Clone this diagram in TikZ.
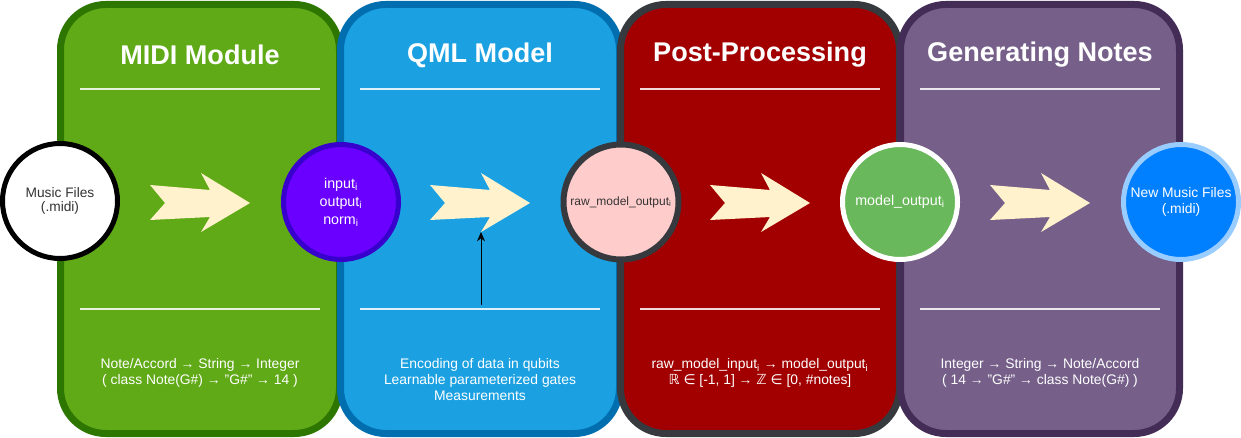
\documentclass[tikz,border=0pt]{standalone}
\usepackage{fontspec}
\setmainfont{Liberation Sans}
\newfontfamily\symf{DejaVu Sans}
\usetikzlibrary{arrows.meta}
\definecolor{gfill}{HTML}{60A917}
\definecolor{gline}{HTML}{2D7600}
\definecolor{bfill}{HTML}{1BA1E2}
\definecolor{bline}{HTML}{006EAF}
\definecolor{rfill}{HTML}{A20000}
\definecolor{rline}{HTML}{36393D}
\definecolor{pfill}{HTML}{76608A}
\definecolor{pline}{HTML}{432D57}
\definecolor{cream}{HTML}{FFF2CC}
\definecolor{violet}{HTML}{6A00FF}
\definecolor{violetline}{HTML}{3700CC}
\definecolor{pink}{HTML}{FFCCCC}
\definecolor{leaf}{HTML}{6AB85C}
\definecolor{azure}{HTML}{007FFF}
\definecolor{azureline}{HTML}{99CCFF}
\definecolor{txtgray}{HTML}{333333}
\newcommand{\symb}[1]{{\symf #1}}
\tikzset{
  panel/.style={rectangle, rounded corners=34pt, line width=5.25pt,
    minimum width=209.25pt, minimum height=321.75pt, inner sep=0pt},
  paneltitle/.style={text=white, font=\fontsize{20.3pt}{24pt}\selectfont\bfseries},
  divider/.style={draw=white, draw opacity=0.85, line width=1.5pt},
  bottomtext/.style={text=white, anchor=north, align=center,
    font=\fontsize{10.4pt}{12pt}\selectfont},
  station/.style={circle, line width=3.75pt, minimum size=86.25pt, inner sep=0pt,
    align=center, font=\fontsize{10.7pt}{13.5pt}\selectfont},
  smallstation/.style={station, font=\fontsize{10.3pt}{12.5pt}\selectfont},
  feeder/.style={-{Stealth[length=7pt,width=6pt]}, line width=0.75pt, black},
  bigarrow/.pic={
    \fill[cream] (-50,-18) -- (10,-13) -- (1,-30) -- (50,0) -- (1,29)
      -- (10,14) -- (-50,17) -- (-35,0) -- cycle;
    \coordinate (-barb) at (1,29);
  }
}
\begin{document}
\begin{tikzpicture}[x=0.75pt, y=-0.75pt]
\useasboundingbox (0,0) rectangle (1241,438);
% panels
\node[panel, fill=gfill, draw=gline] (p1) at (200,219) {};
\node[panel, fill=bfill, draw=bline] (p2) at (480,219) {};
\node[panel, fill=rfill, draw=rline] (p3) at (760,219) {};
\node[panel, fill=pfill, draw=pline] (p4) at (1040,219) {};
% titles
\node[paneltitle] (t1) at (200,55) {MIDI Module};
\node[paneltitle] (t2) at (480,55) {QML Model};
\node[paneltitle] (t3) at (760,55) {Post-Processing};
\node[paneltitle] (t4) at (1040,55) {Generating Notes};
% dividers
\foreach \cx in {200,480,760,1040}{
  \draw[divider] (\cx-120,89) -- (\cx+120,89);
  \draw[divider] (\cx-120,309) -- (\cx+120,309);
}
% chevron arrows
\pic (a1) at (200,203) {bigarrow};
\pic (a2) at (480,203) {bigarrow};
\pic (a3) at (760,203) {bigarrow};
\pic (a4) at (1040,203) {bigarrow};
% feeder arrow
\coordinate (fs) at (481,305);
\draw[feeder] (fs) -- (a2-barb);
% stations
\node[smallstation, fill=white, draw=black, text=txtgray] (c1) at (60,201)
  {\raisebox{-3pt}{\shortstack{Music Files\\(.midi)}}};
\node[station, fill=violet, draw=violetline, text=white] (c2) at (341,202)
  {input\textsubscript{i}\\output\textsubscript{i}\\norm\textsubscript{i}};
\node[station, fill=pink, draw=rline, line width=4.5pt, text=txtgray,
  font=\fontsize{9pt}{11pt}\selectfont] (c3) at (621,202)
  {raw\_model\_output\textsubscript{i}};
\node[station, fill=leaf, draw=white, text=white] (c4) at (900,202)
  {model\_output\textsubscript{i}};
\node[station, fill=azure, draw=azureline, text=white, font=\fontsize{10.4pt}{12.5pt}\selectfont] (c5) at (1181,202)
  {New Music Files\\(.midi)};
% bottom texts
\node[bottomtext] (b1) at (200,354)
  {Note/Accord → String → Integer\\( class Note(G\#) → "G\#" → 14 )};
\node[bottomtext] (b2) at (480,354)
  {Encoding of data in qubits\\Learnable parameterized gates\\Measurements};
\node[bottomtext] (b3) at (760,354)
  {raw\_model\_input\textsubscript{i} → model\_output\textsubscript{i}\\
   \symb{ℝ} \symb{∈} [-1, 1] → \symb{ℤ} \symb{∈} [0, \#notes]};
\node[bottomtext] (b4) at (1040,354)
  {Integer → String → Note/Accord\\( 14 → "G\#" → class Note(G\#) )};
\end{tikzpicture}
\end{document}
